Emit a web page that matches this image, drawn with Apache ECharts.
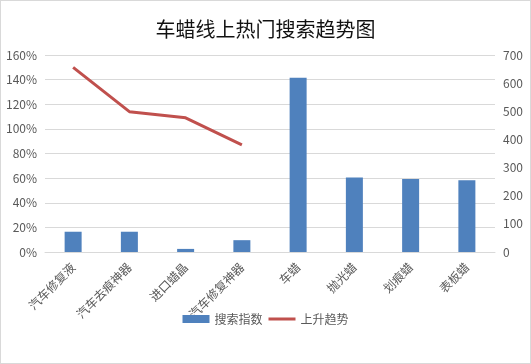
<!DOCTYPE html>
<html>
<head>
<meta charset="utf-8">
<script src="https://cdn.jsdelivr.net/npm/echarts@6/dist/echarts.min.js"></script>
<style>
html,body{margin:0;padding:0;background:#fff;}
#c{width:529px;height:362px;border:1px solid #d9d9d9;}
</style>
</head>
<body>
<div id="c"></div>
<script>
var categories = ['汽车修复液','汽车去痕神器','进口蜡晶','汽车修复神器','车蜡','抛光蜡','划痕蜡','表板蜡'];
var searchIndex = [72, 72, 11, 42, 619, 265, 259, 255];
var riseTrend = [150, 114, 109, 87, null, null, null, null];
var leftTicks = {min:0, max:160, interval:20};
var rightTicks = {min:0, max:700, interval:100};

var chart = echarts.init(document.getElementById('c'));
var font = "'Noto Sans CJK SC', 'Liberation Sans', sans-serif";
var lineIcon = 'path://M0,-2.5L0.01,-2.5L0,-2.49Z M0,0L27,0L27,3L0,3Z M0,5.5L0.01,5.5L0,5.49Z';
chart.setOption({
  animation:false,
  textStyle:{fontFamily:font},
  title:{text:'车蜡线上热门搜索趋势图', left:'center', top:13,
    textStyle:{fontSize:20, fontWeight:'normal', color:'#111', fontFamily:font}},
  grid:{left:44, right:35, top:54, bottom:111, containLabel:false},
  legend:{top:307, left:'center', itemGap:6, itemWidth:27, itemHeight:8,
    textStyle:{fontSize:12, color:'#595959', fontFamily:font},
    data:[{name:'搜索指数', icon:'rect'}, {name:'上升趋势', icon:lineIcon}]},
  xAxis:{type:'category', data:categories,
    axisLine:{lineStyle:{color:'#d9d9d9'}}, axisTick:{show:false},
    axisLabel:{rotate:45, interval:0, fontSize:12, color:'#595959', margin:13, fontFamily:font}},
  yAxis:[
    {type:'value', min:leftTicks.min, max:leftTicks.max, interval:leftTicks.interval,
      axisLine:{show:false}, axisTick:{show:false},
      axisLabel:{formatter:'{value}%', fontSize:12, color:'#595959', margin:8},
      splitLine:{lineStyle:{color:'#d9d9d9'}}},
    {type:'value', min:rightTicks.min, max:rightTicks.max, interval:rightTicks.interval,
      axisLine:{show:false}, axisTick:{show:false},
      axisLabel:{fontSize:12, color:'#595959', margin:8},
      splitLine:{show:false}}
  ],
  series:[
    {name:'搜索指数', type:'bar', yAxisIndex:1, data:searchIndex, barWidth:17,
      itemStyle:{color:'#4f81bd'}},
    {name:'上升趋势', type:'line', yAxisIndex:0, data:riseTrend, showSymbol:false, symbol:'none',
      lineStyle:{color:'#c0504d', width:3}, itemStyle:{color:'#c0504d'}}
  ]
});
</script>
</body>
</html>
